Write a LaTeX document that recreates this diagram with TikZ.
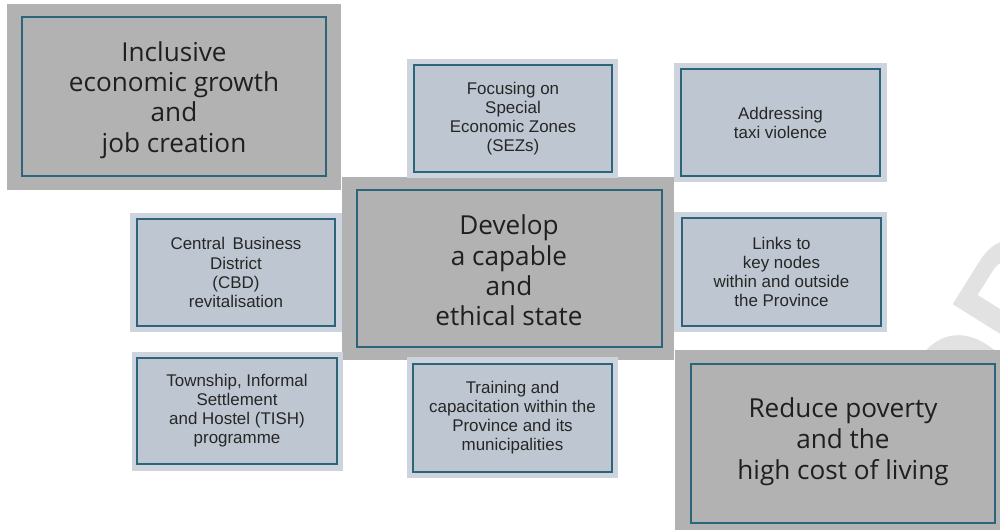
\documentclass[tikz,border=0pt]{standalone}
\usepackage{fontspec}
\setmainfont{Liberation Sans}
\newfontfamily\bigfont{Open Sans}
\newfontfamily\markfont{Liberation Sans}
\definecolor{biggray}{HTML}{B2B2B2}
\definecolor{frameteal}{HTML}{2C6479}
\definecolor{lightouter}{HTML}{CDD4DD}
\definecolor{lightinner}{HTML}{BEC7D1}
\definecolor{markgray}{HTML}{E2E2E2}
\tikzset{
  bigouter/.style={rectangle, fill=biggray, draw=none, inner sep=0pt},
  biginner/.style={rectangle, draw=frameteal, line width=1.1pt, fill=biggray, inner sep=0pt},
  bigtext/.style={inner sep=0pt, align=center,
    font=\bigfont\fontsize{19.6}{22.8}\selectfont, text=black!88},
  smallouter/.style={rectangle, fill=lightouter, draw=none, inner sep=0pt},
  smallinner/.style={rectangle, draw=frameteal, line width=1.1pt, fill=lightinner, inner sep=0pt, align=center,
    font=\fontsize{12.7}{14.3}\selectfont, text=black!85},
}
\begin{document}
\begin{tikzpicture}[x=0.75pt,y=-0.75pt]
\useasboundingbox (0,0) rectangle (1000,530);
\begin{scope}
\clip (0,0) rectangle (1000,530);
% watermark
\node[rotate=58, text=markgray, font=\markfont\bfseries\fontsize{110}{110}\selectfont, anchor=base west] (wm) at (975,460) {DRAFT};
% big boxes
\node[bigouter, minimum width=334*0.75pt, minimum height=186*0.75pt] (incO) at (174,97) {};
\node[biginner, minimum width=304*0.75pt, minimum height=159*0.75pt] (inc) at (174,96.5) {};
\node[bigtext] (incT) at (174,100) {Inclusive\\economic growth\\and\\job creation};
\node[bigouter, minimum width=332*0.75pt, minimum height=183*0.75pt] (devO) at (508,268.5) {};
\node[biginner, minimum width=305*0.75pt, minimum height=157*0.75pt] (dev) at (509.5,268.5) {};
\node[bigtext] (devT) at (509,270.5) {Develop\\a capable\\and\\ethical state};
\node[bigouter, minimum width=335*0.75pt, minimum height=181*0.75pt] (povO) at (842.5,440.5) {};
\node[biginner, minimum width=304*0.75pt, minimum height=159*0.75pt] (pov) at (843,443.5) {};
\node[bigtext, font=\bigfont\fontsize{19.6}{23.3}\selectfont] (povT) at (843,441.5) {Reduce poverty\\and the\\high cost of living};
% small boxes
\node[smallouter, minimum width=211*0.75pt, minimum height=119*0.75pt] (sezO) at (512.5,118.5) {};
\node[smallinner, minimum width=198*0.75pt, minimum height=107*0.75pt] (sez) at (513,118.5) {Focusing on\\Special\\Economic Zones\\(SEZs)};
\node[smallouter, minimum width=213*0.75pt, minimum height=119*0.75pt] (taxiO) at (780.5,122.5) {};
\node[smallinner, minimum width=199*0.75pt, minimum height=107*0.75pt] (taxi) at (780.5,122.5) {Addressing\\taxi violence};
\node[smallouter, minimum width=212*0.75pt, minimum height=119*0.75pt] (cbdO) at (236,272.5) {};
\node[smallinner, minimum width=198*0.75pt, minimum height=107*0.75pt] (cbd) at (236,272.5) {Central\hspace{0.45em}Business\\District\\(CBD)\\revitalisation};
\node[smallouter, minimum width=213*0.75pt, minimum height=120*0.75pt] (linksO) at (780.5,272) {};
\node[smallinner, minimum width=199*0.75pt, minimum height=108*0.75pt] (links) at (781.5,272) {Links to\\key nodes\\within and outside\\the Province};
\node[smallouter, minimum width=211*0.75pt, minimum height=119*0.75pt] (tishO) at (237.5,411.5) {};
\node[smallinner, minimum width=200*0.75pt, minimum height=106*0.75pt] (tish) at (237,411) {Township, Informal\\Settlement\\and Hostel (TISH)\\programme};
\node[smallouter, minimum width=211*0.75pt, minimum height=121*0.75pt] (trainO) at (512.5,417.5) {};
\node[smallinner, minimum width=199*0.75pt, minimum height=108*0.75pt] (train) at (512.5,418) {Training and\\capacitation within the\\Province and its\\municipalities};
\end{scope}
\end{tikzpicture}
\end{document}
